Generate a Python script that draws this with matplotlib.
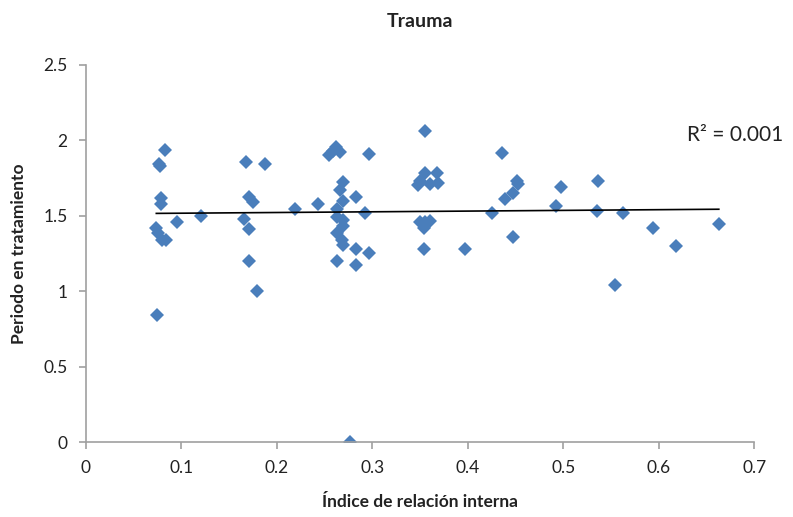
import numpy as np
import matplotlib.pyplot as plt

# Índice de relación interna vs Periodo en tratamiento (Trauma)
indice = [0.075, 0.078, 0.077, 0.083, 0.0785, 0.079, 0.074, 0.076, 0.0795, 0.0838,
          0.096, 0.121, 0.1675, 0.188, 0.171, 0.175, 0.166, 0.171, 0.171, 0.179,
          0.219, 0.243, 0.255, 0.262, 0.266, 0.259, 0.297, 0.27, 0.266, 0.283,
          0.27, 0.2635, 0.293, 0.2635, 0.27, 0.27, 0.263, 0.268, 0.27, 0.283,
          0.297, 0.263, 0.283, 0.277, 0.355, 0.355, 0.368, 0.348, 0.35, 0.361,
          0.369, 0.35, 0.355, 0.361, 0.354, 0.3545, 0.3975, 0.426, 0.4356, 0.439,
          0.447, 0.452, 0.453, 0.447, 0.4925, 0.4977, 0.5365, 0.535, 0.563, 0.554,
          0.594, 0.618, 0.663]
periodo = [0.845, 1.83, 1.845, 1.934, 1.62, 1.576, 1.42, 1.384, 1.34, 1.338,
           1.459, 1.50, 1.856, 1.845, 1.624, 1.59, 1.477, 1.415, 1.20, 1.0,
           1.545, 1.578, 1.903, 1.954, 1.925, 1.93, 1.907, 1.726, 1.671, 1.622,
           1.598, 1.545, 1.516, 1.49, 1.472, 1.432, 1.384, 1.34, 1.307, 1.278,
           1.256, 1.203, 1.176, 0.0, 2.064, 1.785, 1.785, 1.704, 1.73, 1.71,
           1.715, 1.461, 1.461, 1.468, 1.417, 1.278, 1.278, 1.516, 1.914, 1.611,
           1.649, 1.732, 1.71, 1.362, 1.567, 1.689, 1.732, 1.532, 1.516, 1.042,
           1.417, 1.30, 1.446]
r2_text = 'R² = 0.001'

x = np.array(indice)
y = np.array(periodo)
slope, intercept = np.polyfit(x, y, 1)
xt = np.array([x.min(), x.max()])

plt.rcParams['font.family'] = ['Lato', 'DejaVu Sans']

fig = plt.figure(figsize=(7.93, 5.17), dpi=100)
ax = fig.add_axes([0.108, 0.1445, 0.843, 0.730])

ax.plot(x, y, 'D', color='#4A7EBB', markersize=6.8, markeredgewidth=0)
ax.plot(xt, slope * xt + intercept, color='black', linewidth=1.2)

ax.set_xlim(0, 0.7)
ax.set_ylim(0, 2.5)
ax.set_xticks(np.arange(0, 0.71, 0.1))
ax.set_xticklabels(['0', '0.1', '0.2', '0.3', '0.4', '0.5', '0.6', '0.7'])
ax.set_yticks([0, 0.5, 1, 1.5, 2, 2.5])
ax.set_yticklabels(['0', '0.5', '1', '1.5', '2', '2.5'])

for s in ['top', 'right']:
    ax.spines[s].set_visible(False)
for s in ['left', 'bottom']:
    ax.spines[s].set_color('#A0A0A0')
    ax.spines[s].set_linewidth(1.2)
ax.tick_params(colors='#A0A0A0', labelcolor='#222222', labelsize=12.5,
               length=5, width=1.2, direction='out', pad=8)

ax.set_title('Trauma', fontsize=14, fontweight='bold',
             pad=27, color='#222222')
ax.set_xlabel('Índice de relación interna', fontsize=12.5, fontweight='bold',
              labelpad=13, color='#222222')
ax.set_ylabel('Periodo en tratamiento', fontsize=12.5, fontweight='bold',
              labelpad=12, color='#222222')

ax.text(0.972, 1.97, r2_text, transform=ax.get_yaxis_transform(),
        fontsize=15, color='#222222', ha='center', va='bottom')

fig.savefig('out.png', dpi=100)
